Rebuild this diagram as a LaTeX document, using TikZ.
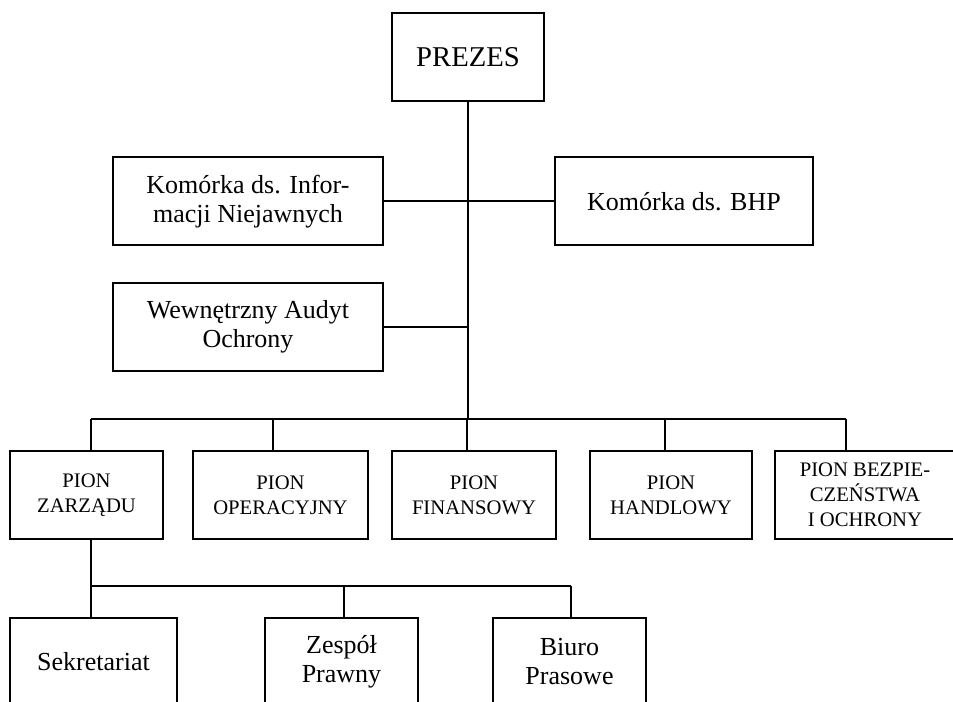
\documentclass[tikz,border=0pt]{standalone}
\usepackage{fontspec}
\setmainfont{Liberation Serif}
\usetikzlibrary{positioning}

\begin{document}
\begin{tikzpicture}[x=0.75pt,y=-0.75pt,line width=1.5pt,
  box/.style={draw,align=center,inner sep=2pt,minimum height=66pt},
  duzy/.style={box,font=\fontsize{19.5}{21.75}\selectfont},
  pion/.style={box,font=\fontsize{15.5}{18.75}\selectfont}]
  \useasboundingbox (0,0) rectangle (953,702);
  \clip (0,0) rectangle (953,702);

  % prezes i komórki
  \node[box,minimum width=114pt,font=\fontsize{21.5}{24}\selectfont] (prezes) at (468,57) {PREZES};
  \node[duzy,minimum width=202.5pt] (info) at (248,201.5) {Komórka ds. Infor-\\macji Niejawnych};
  \node[duzy,minimum width=193.5pt] (bhp) at (684,201.5) {Komórka ds. BHP};
  \node[duzy,minimum width=202.5pt] (audyt) at (248,327) {Wewnętrzny Audyt\\Ochrony};

  % piony
  \node[pion,minimum width=114.75pt] (p1) at (86.5,495) {PION\\ZARZĄDU};
  \node[pion,minimum width=131.25pt] (p2) at (280.5,495) {PION\\OPERACYJNY};
  \node[pion,minimum width=123pt] (p3) at (474,495) {PION\\FINANSOWY};
  \node[pion,minimum width=121.5pt] (p4) at (671,495) {PION\\HANDLOWY};
  \node[pion,minimum width=135pt] (p5) at (865,495) {PION BEZPIE-\\CZEŃSTWA\\I OCHRONY};

  % komórki pionu zarządu
  \node[duzy,minimum width=125.25pt] (s1) at (93.5,662) {Sekretariat};
  \node[duzy,minimum width=114.75pt] (s2) at (341.5,662) {Zespół\\Prawny};
  \node[duzy,minimum width=114.75pt] (s3) at (569.5,662) {Biuro\\Prasowe};

  % punkty szyn
  \coordinate (z1) at (91,419);
  \coordinate (z2) at (273,419);
  \coordinate (z3) at (467,419);
  \coordinate (z4) at (665,419);
  \coordinate (z5) at (846,419);
  \coordinate (w1) at (91,586);
  \coordinate (w2) at (344,586);
  \coordinate (w3) at (571,586);

  % połączenia
  \draw (prezes.south) -- (prezes.south |- z3);
  \draw (info.east) -- (info.east -| prezes.south);
  \draw (bhp.west) -- (bhp.west -| prezes.south);
  \draw (audyt.east) -- (audyt.east -| prezes.south);
  \draw (z1) -- (z5);
  \foreach \i in {1,...,5}
    \draw (z\i) -- (z\i |- p\i.north);
  \draw (p1.south -| w1) -- (w1) -- (w3);
  \foreach \i in {1,2,3}
    \draw (w\i) -- (w\i |- s\i.north);
\end{tikzpicture}
\end{document}
